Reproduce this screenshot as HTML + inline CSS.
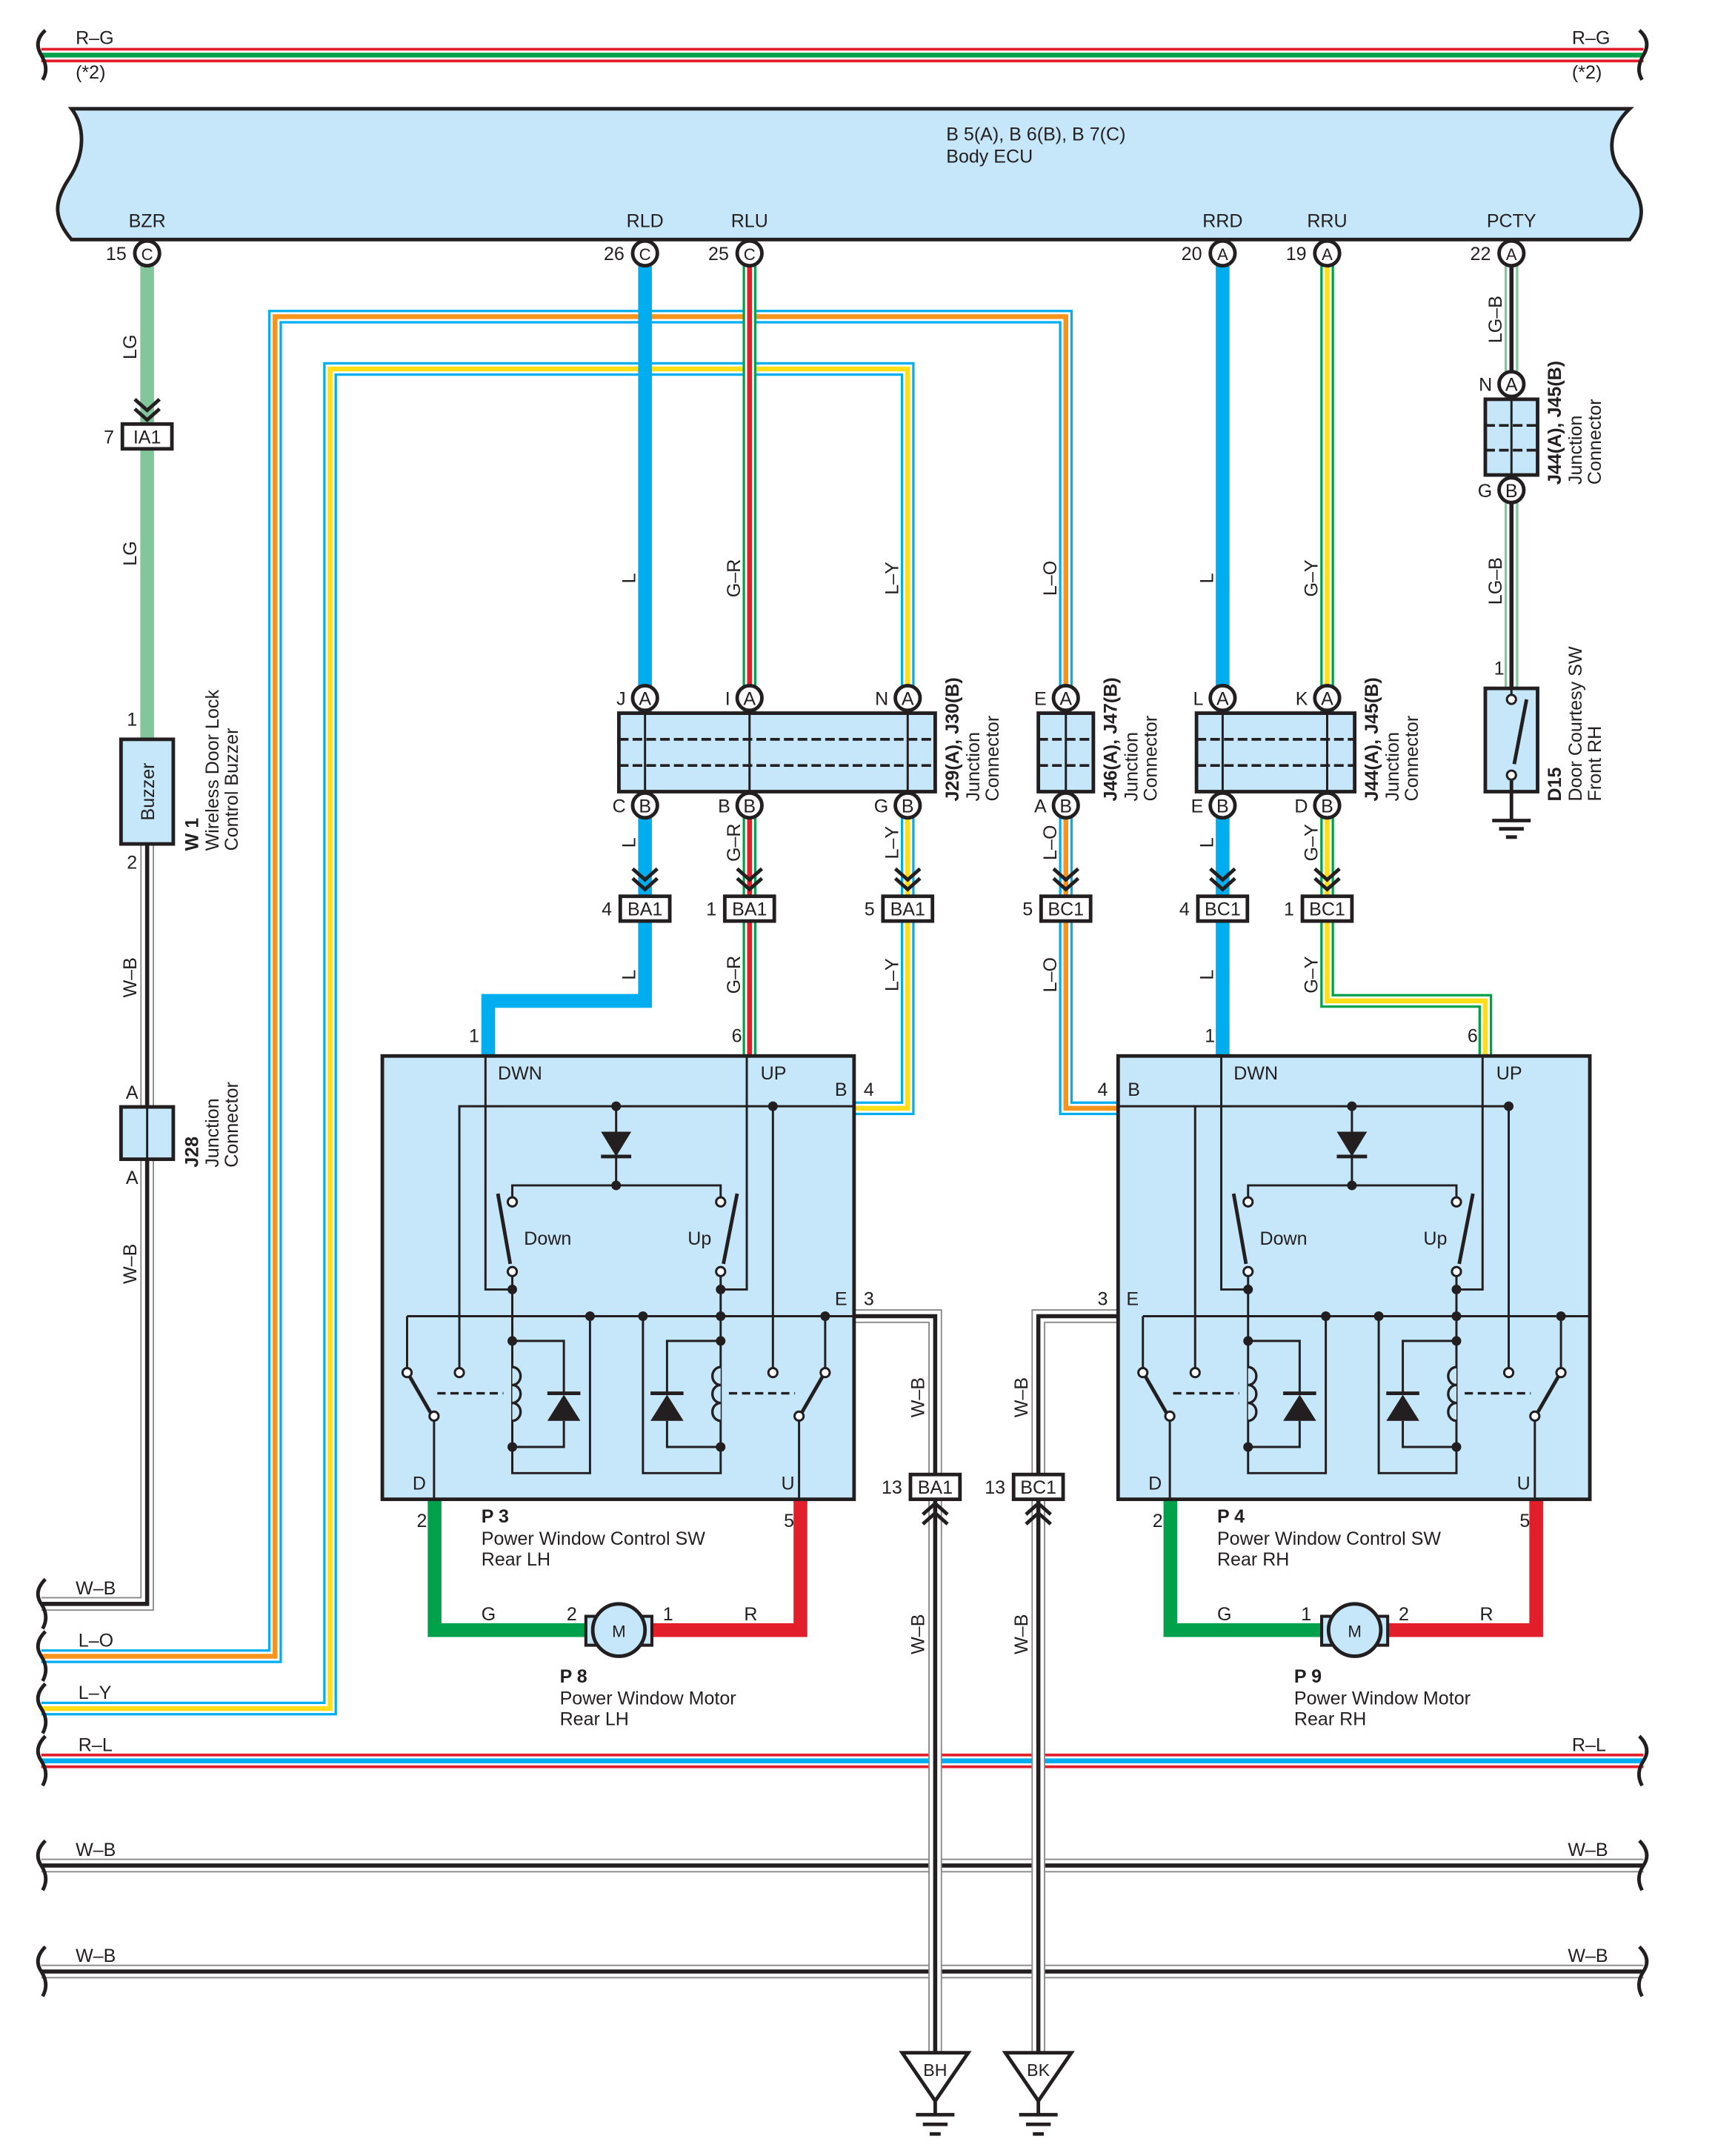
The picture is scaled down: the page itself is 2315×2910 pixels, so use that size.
<!DOCTYPE html>
<html><head><meta charset="utf-8"><style>
html,body{margin:0;padding:0;background:#fff}
svg{display:block}
text{font-family:"Liberation Sans",Arial,sans-serif;font-size:13.5px;fill:#231f20}
.b{font-weight:bold}
.k{fill:none;stroke:#231f20;stroke-width:1.6}
.kk{fill:none;stroke:#231f20;stroke-width:2.6}
.dot{fill:#231f20}
.oc{fill:#fff;stroke:#231f20;stroke-width:1.6}
.pc{fill:#fff;stroke:#231f20;stroke-width:2.6}
.cb{fill:#fff;stroke:#231f20;stroke-width:2.6}
.jb{fill:#c6e7f9;stroke:#231f20;stroke-width:2.6}
.ds{fill:none;stroke:#231f20;stroke-width:2;stroke-dasharray:7 3}
.c{text-anchor:middle}
</style></head><body>
<svg width="2315" height="2910" viewBox="0 0 1247 1566" preserveAspectRatio="none" xmlns="http://www.w3.org/2000/svg">
<defs>
<path id="wRG" d="M30 40 H1195"/>
<path id="wRL" d="M30 1279 H1195"/>
<path id="wB1" d="M30 1355 H1195"/>
<path id="wB2" d="M30 1432 H1195"/>
<path id="wLO" d="M30 1203 H200 V230 H775 V498 M775 593 V805 H813"/>
<path id="wLY" d="M30 1241 H240 V268 H660 V498 M660 593 V805 H621"/>
<path id="wWB1" d="M107 613 V1165 H30"/>
<path id="wWBE" d="M621 956 H680 V1490 M813 956 H755 V1490"/>
<path id="wGR" d="M545 193 V767"/>
<path id="wGY" d="M965 193 V727 H1080 V767"/>
<path id="wLGB" d="M1099 193 V500"/>
</defs>

<use href="#wRG" stroke="#e31e2b" stroke-width="10.5" fill="none"/>
<use href="#wRG" stroke="#fff" stroke-width="6.5" fill="none"/>
<use href="#wRG" stroke="#00a14b" stroke-width="3.5" fill="none"/>
<text x="55" y="32">R–G</text><text x="55" y="57">(*2)</text>
<text x="1143" y="32">R–G</text><text x="1143" y="57">(*2)</text>

<path d="M52 79 H1185 C1168 95,1168 115,1183 130 C1198 148,1195 162,1185 174 H52 C40 160,38 148,50 130 C62 112,62 92,52 79 Z" fill="#c6e7f9" stroke="#231f20" stroke-width="2.6"/>
<text x="688" y="102">B 5(A), B 6(B), B 7(C)</text>
<text x="688" y="118">Body ECU</text>
<text x="107" y="165" class="c">BZR</text><text x="469" y="165" class="c">RLD</text><text x="545" y="165" class="c">RLU</text>
<text x="889" y="165" class="c">RRD</text><text x="965" y="165" class="c">RRU</text><text x="1099" y="165" class="c">PCTY</text>

<path d="M107 193 V537" stroke="#82c79c" stroke-width="10" fill="none"/>
<use href="#wWB1" stroke="#888" stroke-width="10" fill="none"/><use href="#wWB1" stroke="#fff" stroke-width="8" fill="none"/><use href="#wWB1" stroke="#231f20" stroke-width="3" fill="none"/>
<use href="#wLO" stroke="#00aeef" stroke-width="10" fill="none"/><use href="#wLO" stroke="#fff" stroke-width="6.5" fill="none"/><use href="#wLO" stroke="#f7941d" stroke-width="3.5" fill="none"/>
<use href="#wLY" stroke="#00aeef" stroke-width="10" fill="none"/><use href="#wLY" stroke="#fff" stroke-width="6.5" fill="none"/><use href="#wLY" stroke="#ffde17" stroke-width="3.5" fill="none"/>
<path d="M469 193 V727 H355 V767 M889 193 V767" stroke="#00aeef" stroke-width="10" fill="none"/>
<use href="#wGR" stroke="#00a14b" stroke-width="10" fill="none"/><use href="#wGR" stroke="#fff" stroke-width="6.5" fill="none"/><use href="#wGR" stroke="#e31e2b" stroke-width="3.5" fill="none"/>
<use href="#wGY" stroke="#00a14b" stroke-width="10" fill="none"/><use href="#wGY" stroke="#fff" stroke-width="6.5" fill="none"/><use href="#wGY" stroke="#ffde17" stroke-width="3.5" fill="none"/>
<use href="#wLGB" stroke="#82c79c" stroke-width="10" fill="none"/><use href="#wLGB" stroke="#fff" stroke-width="6.5" fill="none"/><use href="#wLGB" stroke="#231f20" stroke-width="3" fill="none"/>
<path d="M316 1089 V1184 H430 M851 1089 V1184 H965" stroke="#00a14b" stroke-width="10" fill="none"/>
<path d="M582 1089 V1184 H470 M1117 1089 V1184 H1005" stroke="#e31e2b" stroke-width="10" fill="none"/>

<use href="#wRL" stroke="#e31e2b" stroke-width="10.5" fill="none"/><use href="#wRL" stroke="#fff" stroke-width="6.5" fill="none"/><use href="#wRL" stroke="#00aeef" stroke-width="3.5" fill="none"/>
<use href="#wB1" stroke="#888" stroke-width="10" fill="none"/><use href="#wB1" stroke="#fff" stroke-width="8" fill="none"/><use href="#wB1" stroke="#231f20" stroke-width="3" fill="none"/>
<use href="#wB2" stroke="#888" stroke-width="10" fill="none"/><use href="#wB2" stroke="#fff" stroke-width="8" fill="none"/><use href="#wB2" stroke="#231f20" stroke-width="3" fill="none"/>
<use href="#wWBE" stroke="#888" stroke-width="10" fill="none"/><use href="#wWBE" stroke="#fff" stroke-width="8" fill="none"/><use href="#wWBE" stroke="#231f20" stroke-width="3" fill="none"/>
<g class="kk">
<path d="M33 22 Q24 30 30 40 Q36 50 31 58"/><path d="M1192 22 Q1201 30 1195 40 Q1189 50 1194 58"/>
<path d="M33 1147 Q24 1156 30 1165 Q36 1174 31 1183"/>
<path d="M33 1185 Q24 1194 30 1203 Q36 1212 31 1221"/>
<path d="M33 1223 Q24 1232 30 1241 Q36 1250 31 1259"/>
<path d="M33 1261 Q24 1270 30 1279 Q36 1288 31 1297"/>
<path d="M33 1337 Q24 1346 30 1355 Q36 1364 31 1373"/>
<path d="M33 1414 Q24 1423 30 1432 Q36 1441 31 1450"/>
<path d="M1192 1261 Q1201 1270 1195 1279 Q1189 1288 1194 1297"/>
<path d="M1192 1337 Q1201 1346 1195 1355 Q1189 1364 1194 1373"/>
<path d="M1192 1414 Q1201 1423 1195 1432 Q1189 1441 1194 1450"/>
</g>
<text x="55" y="1158">W–B</text><text x="57" y="1196">L–O</text><text x="57" y="1234">L–Y</text>
<text x="57" y="1272">R–L</text><text x="1143" y="1272">R–L</text>
<text x="55" y="1348">W–B</text><text x="1140" y="1348">W–B</text>
<text x="55" y="1425">W–B</text><text x="1140" y="1425">W–B</text>

<g>
<circle cx="107" cy="184" r="9" class="pc"/><text x="107" y="189" class="c" style="font-size:12px">C</text><text x="92" y="189" text-anchor="end">15</text>
<circle cx="469" cy="184" r="9" class="pc"/><text x="469" y="189" class="c" style="font-size:12px">C</text><text x="454" y="189" text-anchor="end">26</text>
<circle cx="545" cy="184" r="9" class="pc"/><text x="545" y="189" class="c" style="font-size:12px">C</text><text x="530" y="189" text-anchor="end">25</text>
<circle cx="889" cy="184" r="9" class="pc"/><text x="889" y="189" class="c" style="font-size:12px">A</text><text x="874" y="189" text-anchor="end">20</text>
<circle cx="965" cy="184" r="9" class="pc"/><text x="965" y="189" class="c" style="font-size:12px">A</text><text x="950" y="189" text-anchor="end">19</text>
<circle cx="1099" cy="184" r="9" class="pc"/><text x="1099" y="189" class="c" style="font-size:12px">A</text><text x="1084" y="189" text-anchor="end">22</text>
</g>

<g>
<text transform="translate(99,252) rotate(-90)" class="c">LG</text>
<text transform="translate(99,402) rotate(-90)" class="c">LG</text>
<text transform="translate(99,710) rotate(-90)" class="c">W–B</text>
<text transform="translate(99,918) rotate(-90)" class="c">W–B</text>
<text transform="translate(462,420) rotate(-90)" class="c">L</text>
<text transform="translate(538,420) rotate(-90)" class="c">G–R</text>
<text transform="translate(653,420) rotate(-90)" class="c">L–Y</text>
<text transform="translate(768,420) rotate(-90)" class="c">L–O</text>
<text transform="translate(882,420) rotate(-90)" class="c">L</text>
<text transform="translate(958,420) rotate(-90)" class="c">G–Y</text>
<text transform="translate(1092,232) rotate(-90)" class="c">LG–B</text>
<text transform="translate(1092,422) rotate(-90)" class="c">LG–B</text>
<text transform="translate(462,612) rotate(-90)" class="c">L</text>
<text transform="translate(538,612) rotate(-90)" class="c">G–R</text>
<text transform="translate(653,612) rotate(-90)" class="c">L–Y</text>
<text transform="translate(768,612) rotate(-90)" class="c">L–O</text>
<text transform="translate(882,612) rotate(-90)" class="c">L</text>
<text transform="translate(958,612) rotate(-90)" class="c">G–Y</text>
<text transform="translate(462,708) rotate(-90)" class="c">L</text>
<text transform="translate(538,708) rotate(-90)" class="c">G–R</text>
<text transform="translate(653,708) rotate(-90)" class="c">L–Y</text>
<text transform="translate(768,708) rotate(-90)" class="c">L–O</text>
<text transform="translate(882,708) rotate(-90)" class="c">L</text>
<text transform="translate(958,708) rotate(-90)" class="c">G–Y</text>
<text transform="translate(672,1015) rotate(-90)" class="c">W–B</text>
<text transform="translate(747,1015) rotate(-90)" class="c">W–B</text>
<text transform="translate(672,1187) rotate(-90)" class="c">W–B</text>
<text transform="translate(747,1187) rotate(-90)" class="c">W–B</text>
</g>

<g class="kk" stroke-width="3">
<path d="M98 290 L107 298 L116 290 M98 297 L107 305 L116 297"/>
<path d="M460 631 L469 639 L478 631 M460 638 L469 646 L478 638"/>
<path d="M536 631 L545 639 L554 631 M536 638 L545 646 L554 638"/>
<path d="M651 631 L660 639 L669 631 M651 638 L660 646 L669 638"/>
<path d="M766 631 L775 639 L784 631 M766 638 L775 646 L784 638"/>
<path d="M880 631 L889 639 L898 631 M880 638 L889 646 L898 638"/>
<path d="M956 631 L965 639 L974 631 M956 638 L965 646 L974 638"/>
<path d="M671 1100 L680 1092 L689 1100 M671 1107 L680 1099 L689 1107"/>
<path d="M746 1100 L755 1092 L764 1100 M746 1107 L755 1099 L764 1107"/>
</g>

<rect x="89" y="308" width="36" height="18" class="cb"/><text x="107" y="322" class="c">IA1</text><text x="83" y="322" text-anchor="end">7</text>
<g>
<rect x="451" y="651" width="36" height="18" class="cb"/><text x="469" y="665" class="c">BA1</text><text x="445" y="665" text-anchor="end">4</text>
<rect x="527" y="651" width="36" height="18" class="cb"/><text x="545" y="665" class="c">BA1</text><text x="521" y="665" text-anchor="end">1</text>
<rect x="642" y="651" width="36" height="18" class="cb"/><text x="660" y="665" class="c">BA1</text><text x="636" y="665" text-anchor="end">5</text>
<rect x="757" y="651" width="36" height="18" class="cb"/><text x="775" y="665" class="c">BC1</text><text x="751" y="665" text-anchor="end">5</text>
<rect x="871" y="651" width="36" height="18" class="cb"/><text x="889" y="665" class="c">BC1</text><text x="865" y="665" text-anchor="end">4</text>
<rect x="947" y="651" width="36" height="18" class="cb"/><text x="965" y="665" class="c">BC1</text><text x="941" y="665" text-anchor="end">1</text>
<rect x="662" y="1071" width="36" height="18" class="cb"/><text x="680" y="1085" class="c">BA1</text><text x="656" y="1085" text-anchor="end">13</text>
<rect x="737" y="1071" width="36" height="18" class="cb"/><text x="755" y="1085" class="c">BC1</text><text x="731" y="1085" text-anchor="end">13</text>
</g>

<rect x="88" y="537" width="38" height="76" class="jb"/>
<text transform="translate(112,575) rotate(-90)" class="c">Buzzer</text>
<text x="96" y="527" class="c">1</text><text x="96" y="631" class="c">2</text>
<text transform="translate(144,618) rotate(-90)" class="b">W 1</text>
<text transform="translate(159,618) rotate(-90)">Wireless Door Lock</text>
<text transform="translate(173,618) rotate(-90)">Control Buzzer</text>
<rect x="88" y="804" width="38" height="38" class="jb"/><path d="M107 804 V842" class="k"/>
<text x="96" y="798" class="c">A</text><text x="96" y="860" class="c">A</text>
<text transform="translate(144,848) rotate(-90)" class="b">J28</text>
<text transform="translate(159,848) rotate(-90)">Junction</text>
<text transform="translate(173,848) rotate(-90)">Connector</text>

<rect x="450" y="518" width="230" height="57" class="jb"/>
<path d="M450 537 H680 M450 556 H680" class="ds"/>
<path d="M469 518 V575 M545 518 V575 M660 518 V575" class="k"/>
<rect x="755" y="518" width="40" height="57" class="jb"/>
<path d="M755 537 H795 M755 556 H795" class="ds"/><path d="M775 518 V575" class="k"/>
<rect x="870" y="518" width="115" height="57" class="jb"/>
<path d="M870 537 H985 M870 556 H985" class="ds"/><path d="M889 518 V575 M965 518 V575" class="k"/>
<rect x="1080" y="290" width="38" height="55" class="jb"/>
<path d="M1080 309 H1118 M1080 327 H1118" class="ds"/><path d="M1099 290 V345" class="k"/>
<g style="font-size:12px">
<circle cx="469" cy="507" r="9" class="pc"/><text x="469" y="512" class="c">A</text>
<circle cx="545" cy="507" r="9" class="pc"/><text x="545" y="512" class="c">A</text>
<circle cx="660" cy="507" r="9" class="pc"/><text x="660" y="512" class="c">A</text>
<circle cx="775" cy="507" r="9" class="pc"/><text x="775" y="512" class="c">A</text>
<circle cx="889" cy="507" r="9" class="pc"/><text x="889" y="512" class="c">A</text>
<circle cx="965" cy="507" r="9" class="pc"/><text x="965" y="512" class="c">A</text>
<circle cx="469" cy="585" r="9" class="pc"/><text x="469" y="590" class="c">B</text>
<circle cx="545" cy="585" r="9" class="pc"/><text x="545" y="590" class="c">B</text>
<circle cx="660" cy="585" r="9" class="pc"/><text x="660" y="590" class="c">B</text>
<circle cx="775" cy="585" r="9" class="pc"/><text x="775" y="590" class="c">B</text>
<circle cx="889" cy="585" r="9" class="pc"/><text x="889" y="590" class="c">B</text>
<circle cx="965" cy="585" r="9" class="pc"/><text x="965" y="590" class="c">B</text>
<circle cx="1099" cy="279" r="9" class="pc"/><text x="1099" y="284" class="c">A</text>
<circle cx="1099" cy="356" r="9" class="pc"/><text x="1099" y="361" class="c">B</text>
</g>
<text x="455" y="512" text-anchor="end">J</text><text x="531" y="512" text-anchor="end">I</text><text x="646" y="512" text-anchor="end">N</text>
<text x="761" y="512" text-anchor="end">E</text><text x="875" y="512" text-anchor="end">L</text><text x="951" y="512" text-anchor="end">K</text>
<text x="455" y="590" text-anchor="end">C</text><text x="531" y="590" text-anchor="end">B</text><text x="646" y="590" text-anchor="end">G</text>
<text x="761" y="590" text-anchor="end">A</text><text x="875" y="590" text-anchor="end">E</text><text x="951" y="590" text-anchor="end">D</text>
<text x="1085" y="284" text-anchor="end">N</text><text x="1085" y="361" text-anchor="end">G</text>
<text transform="translate(697,582) rotate(-90)" class="b">J29(A), J30(B)</text>
<text transform="translate(712,582) rotate(-90)">Junction</text>
<text transform="translate(726,582) rotate(-90)">Connector</text>
<text transform="translate(812,582) rotate(-90)" class="b">J46(A), J47(B)</text>
<text transform="translate(827,582) rotate(-90)">Junction</text>
<text transform="translate(841,582) rotate(-90)">Connector</text>
<text transform="translate(1002,582) rotate(-90)" class="b">J44(A), J45(B)</text>
<text transform="translate(1017,582) rotate(-90)">Junction</text>
<text transform="translate(1031,582) rotate(-90)">Connector</text>
<text transform="translate(1135,352) rotate(-90)" class="b">J44(A), J45(B)</text>
<text transform="translate(1150,352) rotate(-90)">Junction</text>
<text transform="translate(1164,352) rotate(-90)">Connector</text>

<rect x="1080" y="500" width="38" height="75" class="jb"/>
<path d="M1099 500 V506" class="k"/>
<path d="M1110 508 L1101 555" class="kk" stroke-width="1.8"/>
<circle cx="1099" cy="508" r="3.3" class="oc"/><circle cx="1099" cy="563" r="3.3" class="oc"/>
<path d="M1099 567 V596 M1085 596 H1113 M1090 602 H1108 M1095 608 H1103" class="kk" stroke-width="2"/>
<text x="1090" y="490" class="c">1</text>
<text transform="translate(1135,582) rotate(-90)" class="b">D15</text>
<text transform="translate(1150,582) rotate(-90)">Door Courtesy SW</text>
<text transform="translate(1164,582) rotate(-90)">Front RH</text>

<g id="sw">
<rect x="278" y="767" width="343" height="322" fill="#c6e7f9" stroke="#231f20" stroke-width="2.6"/>
<path class="k" d="M353 767 V936.6 H372.5 M543 767 V936.6 H524 M334 993.5 V803.5 H562 V993.5 M448 803.5 V861 M372.5 869.5 V861 H524 V869.5
M372.5 927 V1070 H429 V956 M524 927 V1070 H467.5 V956 M296 956 H621 M296 956 V993.5 M315.6 1032 V1089 M581 1032 V1089 M600 956 V993.5
M372.5 974 H410 V1012 M410 1032 V1051 H372.5 M524 974 H485 V1012 M485 1032 V1051 H524"/>
<path class="kk" stroke-width="2" d="M362 867 L371 918 M536 867 L526 918 M298 1000 L313 1026 M598 1000 L583 1026"/>
<polygon points="437,822 459,822 448,840" class="dot"/><path d="M437 840 H459" class="kk" stroke-width="2"/>
<polygon points="398,1032 422,1032 410,1013" class="dot"/><path d="M398 1012 H422" class="kk" stroke-width="2"/>
<polygon points="473,1032 497,1032 485,1013" class="dot"/><path d="M473 1012 H497" class="kk" stroke-width="2"/>
<path d="M372.5 993 a6 6.5 0 0 1 0 13 a6 6.5 0 0 1 0 13 a6 6.5 0 0 1 0 13" fill="#c6e7f9" stroke="#231f20" stroke-width="1.8"/>
<path d="M524 993 a6 6.5 0 0 0 0 13 a6 6.5 0 0 0 0 13 a6 6.5 0 0 0 0 13" fill="#c6e7f9" stroke="#231f20" stroke-width="1.8"/>
<path d="M318 1012 H366 M530 1012 H578" stroke="#231f20" stroke-width="1.8" stroke-dasharray="6 3.5"/>
<g class="oc"><circle cx="372.5" cy="873" r="3.3"/><circle cx="524" cy="873" r="3.3"/><circle cx="372.5" cy="923.6" r="3.3"/><circle cx="524" cy="923.6" r="3.3"/>
<circle cx="296" cy="997" r="3.3"/><circle cx="334" cy="997" r="3.3"/><circle cx="562" cy="997" r="3.3"/><circle cx="600" cy="997" r="3.3"/>
<circle cx="315.6" cy="1028.6" r="3.3"/><circle cx="581" cy="1028.6" r="3.3"/></g>
<g class="dot"><circle cx="448" cy="803.5" r="3.5"/><circle cx="562" cy="803.5" r="3.5"/><circle cx="448" cy="861" r="3.5"/>
<circle cx="372.5" cy="936.6" r="3.5"/><circle cx="524" cy="936.6" r="3.5"/><circle cx="429" cy="956" r="3.5"/><circle cx="467.5" cy="956" r="3.5"/>
<circle cx="524" cy="956" r="3.5"/><circle cx="600" cy="956" r="3.5"/><circle cx="372.5" cy="974" r="3.5"/><circle cx="524" cy="974" r="3.5"/>
<circle cx="372.5" cy="1051" r="3.5"/><circle cx="524" cy="1051" r="3.5"/></g>
</g>
<use href="#sw" transform="translate(535,0)"/>
<path d="M562 803.5 H621" class="k"/>
<path d="M813 803.5 H869" class="k"/>

<text x="362" y="784">DWN</text><text x="553" y="784">UP</text><text x="607" y="796">B</text>
<text x="381" y="904">Down</text><text x="500" y="904">Up</text><text x="607" y="948">E</text>
<text x="300" y="1082">D</text><text x="568" y="1082">U</text>
<text x="341" y="757">1</text><text x="532" y="757">6</text><text x="628" y="796">4</text><text x="628" y="948">3</text>
<text x="303" y="1109">2</text><text x="570" y="1109">5</text>
<text x="350" y="1106" class="b">P 3</text><text x="350" y="1122">Power Window Control SW</text><text x="350" y="1137">Rear LH</text>
<text x="897" y="784">DWN</text><text x="1088" y="784">UP</text><text x="820" y="796">B</text>
<text x="916" y="904">Down</text><text x="1035" y="904">Up</text><text x="819" y="948">E</text>
<text x="835" y="1082">D</text><text x="1103" y="1082">U</text>
<text x="876" y="757">1</text><text x="1067" y="757">6</text><text x="798" y="796">4</text><text x="798" y="948">3</text>
<text x="838" y="1109">2</text><text x="1105" y="1109">5</text>
<text x="885" y="1106" class="b">P 4</text><text x="885" y="1122">Power Window Control SW</text><text x="885" y="1137">Rear RH</text>

<g>
<rect x="426" y="1174" width="8" height="21" fill="#c6e7f9" stroke="#231f20" stroke-width="2.2"/>
<rect x="466" y="1174" width="8" height="21" fill="#c6e7f9" stroke="#231f20" stroke-width="2.2"/>
<circle cx="450" cy="1184" r="19" fill="#c6e7f9" stroke="#231f20" stroke-width="2.6"/>
<text x="450" y="1189" class="c" style="font-size:12px">M</text>
<rect x="961" y="1174" width="8" height="21" fill="#c6e7f9" stroke="#231f20" stroke-width="2.2"/>
<rect x="1001" y="1174" width="8" height="21" fill="#c6e7f9" stroke="#231f20" stroke-width="2.2"/>
<circle cx="985" cy="1184" r="19" fill="#c6e7f9" stroke="#231f20" stroke-width="2.6"/>
<text x="985" y="1189" class="c" style="font-size:12px">M</text>
</g>
<text x="350" y="1177">G</text><text x="412" y="1177">2</text><text x="482" y="1177">1</text><text x="541" y="1177">R</text>
<text x="885" y="1177">G</text><text x="946" y="1177">1</text><text x="1017" y="1177">2</text><text x="1076" y="1177">R</text>
<text x="407" y="1222" class="b">P 8</text><text x="407" y="1238">Power Window Motor</text><text x="407" y="1253">Rear LH</text>
<text x="941" y="1222" class="b">P 9</text><text x="941" y="1238">Power Window Motor</text><text x="941" y="1253">Rear RH</text>

<g>
<polygon points="656,1491 704,1491 680,1526" fill="#fff" stroke="#231f20" stroke-width="2.6"/>
<text x="680" y="1508" class="c" style="font-size:12.5px">BH</text>
<path d="M680 1526 V1536 M666 1536 H694 M671 1543 H689 M676 1550 H684" class="kk" stroke-width="2"/>
<polygon points="731,1491 779,1491 755,1526" fill="#fff" stroke="#231f20" stroke-width="2.6"/>
<text x="755" y="1508" class="c" style="font-size:12.5px">BK</text>
<path d="M755 1526 V1536 M741 1536 H769 M746 1543 H764 M751 1550 H759" class="kk" stroke-width="2"/>
</g>
</svg>
</body></html>
